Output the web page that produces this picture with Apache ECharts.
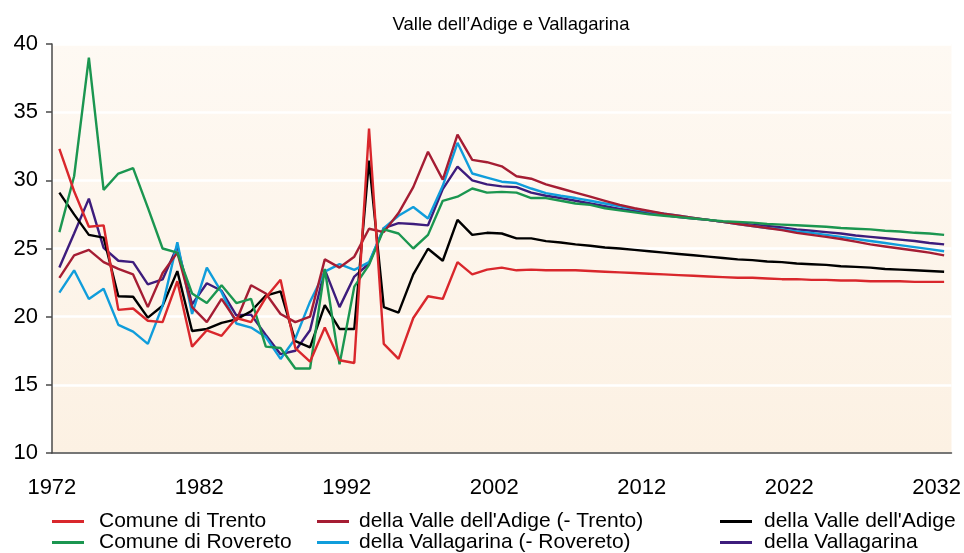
<!DOCTYPE html>
<html>
<head>
<meta charset="utf-8">
<script src="https://cdn.jsdelivr.net/npm/echarts@6/dist/echarts.min.js"></script>
<style>
  html, body { margin: 0; padding: 0; background: #fff; }
  #chart { width: 964px; height: 553px; }
</style>
</head>
<body>
<div id="chart"></div>
<script>
// anni 1972 - 2032
var years = [
  '1972','1973','1974','1975','1976','1977','1978','1979','1980','1981',
  '1982','1983','1984','1985','1986','1987','1988','1989','1990','1991',
  '1992','1993','1994','1995','1996','1997','1998','1999','2000','2001',
  '2002','2003','2004','2005','2006','2007','2008','2009','2010','2011',
  '2012','2013','2014','2015','2016','2017','2018','2019','2020','2021',
  '2022','2023','2024','2025','2026','2027','2028','2029','2030','2031',
  '2032'
];

var trento = [
  32.3, 29.2, 26.6, 26.7, 20.5, 20.6, 19.7, 19.6, 22.6, 17.8,
  19.0, 18.6, 19.9, 19.6, 21.4, 22.7, 17.7, 16.7, 19.2, 16.8,
  16.6, 33.8, 18.0, 16.9, 19.9, 21.5, 21.3, 24.0, 23.1, 23.45,
  23.6, 23.4, 23.45, 23.4, 23.4, 23.4, 23.35, 23.3, 23.25, 23.2,
  23.15, 23.1, 23.05, 23.0, 22.95, 22.9, 22.85, 22.85, 22.8, 22.75,
  22.75, 22.7, 22.7, 22.65, 22.65, 22.6, 22.6, 22.6, 22.55, 22.55, 22.55
];
var rovereto = [
  26.2, 30.3, 39.0, 29.3, 30.5, 30.9, 28.0, 25.0, 24.7, 21.7,
  21.0, 22.3, 21.0, 21.3, 17.8, 17.7, 16.2, 16.2, 23.5, 16.5,
  22.2, 23.8, 26.4, 26.1, 25.0, 26.0, 28.5, 28.8, 29.4, 29.1,
  29.15, 29.1, 28.7, 28.7, 28.5, 28.3, 28.2, 27.95, 27.8, 27.65,
  27.5, 27.4, 27.3, 27.2, 27.1, 27.0, 26.95, 26.9, 26.8, 26.75,
  26.7, 26.65, 26.6, 26.5, 26.45, 26.4, 26.3, 26.25, 26.15, 26.1, 26.0
];
var valleAdigeSenzaTrento = [
  22.85, 24.5, 24.9, 24.0, 23.5, 23.1, 20.7, 23.2, 24.7, 20.7,
  19.6, 21.3, 19.7, 22.3, 21.7, 20.2, 19.6, 20.0, 24.2, 23.6,
  24.4, 26.45, 26.2, 27.6, 29.5, 32.1, 30.05, 33.36, 31.5, 31.33,
  31.03, 30.3, 30.12, 29.7, 29.4, 29.1, 28.8, 28.5, 28.2, 27.95,
  27.75, 27.55, 27.4, 27.25, 27.1, 26.95, 26.8, 26.65, 26.5, 26.35,
  26.15, 26.0, 25.85, 25.7, 25.5, 25.3, 25.15, 25.0, 24.85, 24.7, 24.5
];
var vallagarinaSenzaRovereto = [
  21.76, 23.4, 21.3, 22.05, 19.4, 18.9, 18.0, 20.8, 25.46, 20.2,
  23.6, 21.8, 19.5, 19.2, 18.5, 16.9, 18.4, 21.1, 23.3, 23.85,
  23.43, 24.0, 26.5, 27.4, 28.04, 27.2, 29.6, 32.75, 30.5, 30.2,
  29.9, 29.8, 29.4, 29.06, 28.87, 28.7, 28.5, 28.3, 28.1, 27.9,
  27.7, 27.55, 27.4, 27.25, 27.1, 26.95, 26.8, 26.65, 26.5, 26.4,
  26.25, 26.15, 26.0, 25.85, 25.7, 25.55, 25.4, 25.25, 25.1, 24.95, 24.8
];
var valleAdige = [
  29.1, 27.5, 26.0, 25.8, 21.5, 21.46, 19.93, 20.8, 23.34, 18.95,
  19.1, 19.55, 19.8, 20.4, 21.55, 21.85, 18.2, 17.75, 20.85, 19.1,
  19.1, 31.45, 20.7, 20.3, 23.1, 24.98, 24.1, 27.1, 26.0, 26.15,
  26.1, 25.74, 25.74, 25.54, 25.44, 25.3, 25.2, 25.07, 25.0, 24.9,
  24.8, 24.7, 24.6, 24.5, 24.4, 24.3, 24.2, 24.15, 24.05, 24.0,
  23.9, 23.85, 23.8, 23.7, 23.65, 23.6, 23.5, 23.45, 23.4, 23.35, 23.3
];
var vallagarina = [
  23.6, 26.1, 28.66, 25.05, 24.1, 24.0, 22.37, 22.73, 25.17, 20.9,
  22.45, 21.9, 20.1, 20.15, 18.65, 17.25, 17.5, 19.0, 23.45, 20.7,
  22.94, 23.9, 26.5, 26.86, 26.8, 26.7, 29.36, 31.0, 30.0, 29.7,
  29.56, 29.5, 29.1, 28.87, 28.7, 28.5, 28.3, 28.1, 27.9, 27.75,
  27.6, 27.45, 27.3, 27.2, 27.1, 26.95, 26.85, 26.75, 26.65, 26.55,
  26.4, 26.3, 26.2, 26.1, 25.95, 25.85, 25.75, 25.65, 25.55, 25.4, 25.3
];

var seriesNames = [
  'Comune di Trento', 'Comune di Rovereto',
  "della Valle dell'Adige (- Trento)", 'della Vallagarina (- Rovereto)',
  "della Valle dell'Adige", 'della Vallagarina'
];
var seriesData = [trento, rovereto, valleAdigeSenzaTrento, vallagarinaSenzaRovereto, valleAdige, vallagarina];
var colors = ['#d9272c', '#1b9650', '#a51d33', '#109ddb', '#000000', '#3d1c7c'];

var font = "'Liberation Sans', Arial, sans-serif";

var series = [];
for (var i = 0; i < seriesNames.length; i++) {
  series.push({
    name: seriesNames[i],
    type: 'line',
    symbol: 'none',
    data: seriesData[i],
    lineStyle: { color: colors[i], width: 2.4 },
    itemStyle: { color: colors[i] },
    z: 10 - i
  });
}

// una legenda per voce: tre colonne, due righe
var legendLeft = [52, 52, 317, 317, 720, 720];
var legendTop = [511, 532, 511, 532, 511, 532];
var legendGap = [10, 10, 5, 5, 7, 7];
var legends = [];
for (var j = 0; j < seriesNames.length; j++) {
  legends.push({
    left: legendLeft[j],
    top: legendTop[j],
    padding: 0,
    icon: 'rect',
    itemWidth: 32,
    itemHeight: 3,
    data: [seriesNames[j]],
    textStyle: {
      fontFamily: font,
      fontSize: 21,
      color: '#000',
      lineHeight: 20,
      padding: [0, 0, 0, legendGap[j]]
    }
  });
}

var chart = echarts.init(document.getElementById('chart'), null, { renderer: 'canvas' });
chart.setOption({
  animation: false,
  backgroundColor: '#ffffff',
  title: {
    text: 'Valle dell\u2019Adige e Vallagarina',
    left: 506,
    textAlign: 'center',
    top: 10,
    textStyle: { fontFamily: font, fontSize: 18.5, fontWeight: 'normal', color: '#000' }
  },
  legend: legends,
  grid: {
    left: 52,
    right: 2,
    top: 44,
    bottom: 100,
    show: true,
    borderWidth: 0,
    backgroundColor: new echarts.graphic.LinearGradient(0, 0, 0, 1, [
      { offset: 0, color: '#fef9f3' },
      { offset: 1, color: '#fcf1e3' }
    ])
  },
  xAxis: {
    type: 'category',
    data: years,
    boundaryGap: true,
    axisLine: { lineStyle: { color: '#4a4a4a', width: 1.5 } },
    axisTick: { interval: 4, length: 5, lineStyle: { color: '#4a4a4a', width: 1.5 } },
    axisLabel: {
      interval: 9,
      margin: 24,
      fontFamily: font,
      fontSize: 22,
      color: '#000',
      padding: [0, 15, 0, 0]
    },
    splitLine: { show: false }
  },
  yAxis: {
    type: 'value',
    min: 10,
    max: 40,
    interval: 5,
    axisLine: { show: true, lineStyle: { color: '#4a4a4a', width: 1.5 } },
    axisTick: { show: true, length: 6, lineStyle: { color: '#4a4a4a', width: 1.5 } },
    axisLabel: { margin: 14, fontFamily: font, fontSize: 22, color: '#000' },
    splitLine: { show: true, lineStyle: { color: '#ffffff', width: 2.5 } }
  },
  series: series
});
</script>
</body>
</html>
